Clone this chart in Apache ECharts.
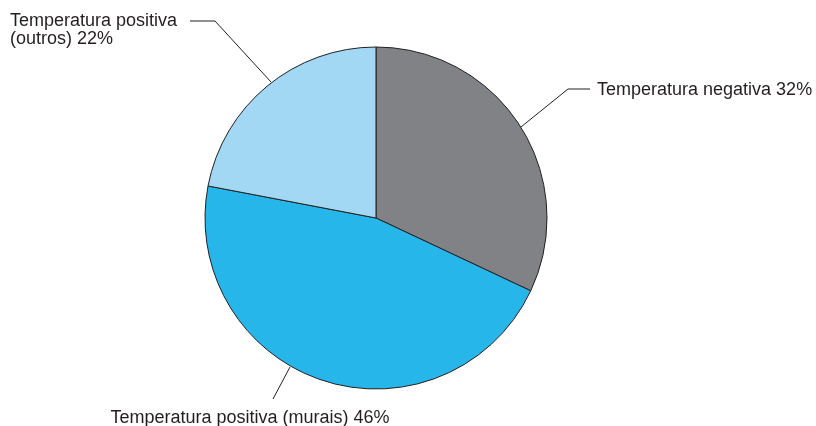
<!DOCTYPE html>
<html><head><meta charset="utf-8">
<script src="https://cdn.jsdelivr.net/npm/echarts@6/dist/echarts.min.js"></script>
<style>html,body{margin:0;padding:0;background:#fff}#c{width:816px;height:426px}</style>
</head><body><div id="c"></div>
<script>
const categories = ['Temperatura negativa', 'Temperatura positiva (murais)', 'Temperatura positiva\n(outros)'];
const values = [32, 46, 22];
const colors = ['#818285', '#27b6ea', '#a2d8f4'];

const labelPlacement = [
  {x: 597, y: 90, align: 'left', verticalAlign: 'middle', line: [[521,127],[568,89],[590,89]]},
  {x: 250, y: 418, align: 'center', verticalAlign: 'middle', line: [[290,367],[273,399],[273,399]]},
  {x: 10, y: 30, align: 'left', verticalAlign: 'middle', line: [[271,82],[215,21],[190,21]]}
];

const chart = echarts.init(document.getElementById('c'), null, {renderer: 'canvas'});
chart.setOption({
  animation: false,
  series: [{
    type: 'pie',
    center: [376, 218],
    radius: 171,
    startAngle: 90,
    clockwise: true,
    avoidLabelOverlap: false,
    itemStyle: {borderColor: '#231f20', borderWidth: 1},
    label: {
      show: true,
      fontFamily: 'Liberation Sans, Arial, sans-serif',
      fontSize: 18,
      lineHeight: 18,
      color: '#231f20',
      formatter: p => p.name + ' ' + p.value + '%'
    },
    labelLine: {show: true, lineStyle: {color: '#231f20', width: 1}},
    labelLayout: function (params) {
      const L = labelPlacement[params.dataIndex];
      return {x: L.x, y: L.y, align: L.align, verticalAlign: L.verticalAlign, labelLinePoints: L.line};
    },
    emphasis: {disabled: true},
    data: categories.map((n, i) => ({name: n, value: values[i], itemStyle: {color: colors[i]}}))
  }]
});
</script></body></html>
